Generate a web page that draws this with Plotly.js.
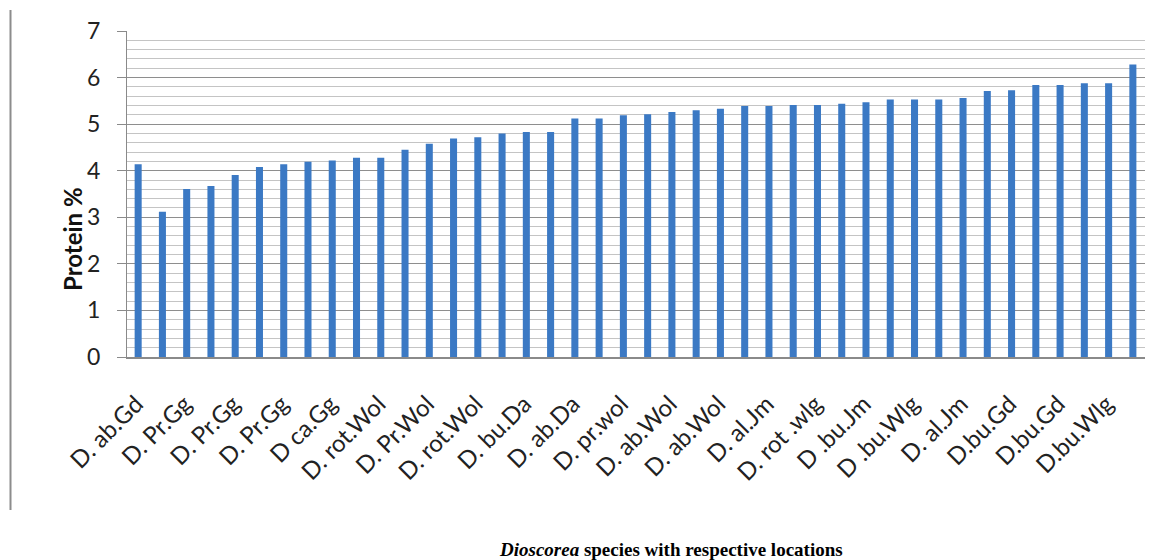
<!DOCTYPE html>
<html>
<head>
<meta charset="utf-8">
<script src="https://cdn.plot.ly/plotly-3.0.1.min.js"></script>
<style>
  html, body { margin: 0; padding: 0; background: #ffffff; }
  #chart { width: 1149px; height: 560px; }
</style>
</head>
<body>
<div id="chart"></div>
<script>
// Protein content (%) of Dioscorea samples, sorted ascending
const proteinPct = [
  4.14, 3.12, 3.61, 3.67, 3.91, 4.08, 4.14, 4.19, 4.22, 4.28,
  4.28, 4.45, 4.58, 4.69, 4.72, 4.80, 4.83, 4.83, 5.12, 5.12,
  5.19, 5.21, 5.26, 5.30, 5.33, 5.39, 5.39, 5.41, 5.41, 5.44,
  5.47, 5.53, 5.53, 5.53, 5.56, 5.71, 5.73, 5.84, 5.84, 5.88,
  5.88, 6.28
];

// Category labels shown on every other bar
const tickLabels = [
  "D. ab.Gd", "D. Pr.Gg", "D. Pr.Gg", "D. Pr.Gg", "D ca.Gg",
  "D. rot.Wol", "D. Pr.Wol", "D. rot.Wol", "D. bu.Da", "D. ab.Da",
  "D. pr.wol", "D. ab.Wol", "D. ab.Wol", "D. al.Jm", "D. rot .wlg",
  "D .bu.Jm", "D .bu.Wlg", "D. al.Jm", "D.bu.Gd", "D.bu.Gd", "D.bu.Wlg"
];

const yTicks = [0, 1, 2, 3, 4, 5, 6, 7];

const sampleIndex = proteinPct.map((_, i) => i);
const labelPositions = tickLabels.map((_, i) => i * 2);

// Plot-area frame in pixels
const W = 1149, H = 560;
const L = 127, R = 1145, T = 31, B = 357;
const pw = R - L, ph = B - T;
const px = x => (x - L) / pw;
const py = y => (B - y) / ph;

const trace = {
  type: 'bar',
  x: sampleIndex,
  y: proteinPct,
  marker: { color: '#3b79c4', line: { width: 0 } },
  hoverinfo: 'y'
};

const layout = {
  width: W, height: H,
  margin: { l: L, r: W - R, t: T, b: H - B, pad: 0 },
  paper_bgcolor: '#ffffff',
  plot_bgcolor: '#ffffff',
  showlegend: false,
  bargap: 0.71,
  xaxis: {
    range: [-0.46, 41.5],
    tickmode: 'array',
    tickvals: labelPositions,
    ticktext: tickLabels,
    tickangle: -45,
    ticks: '',
    ticklabelstandoff: 22,
    ticklabelshift: -2,
    tickfont: { family: 'Lato, "Open Sans", sans-serif', size: 24, color: '#222222' },
    showgrid: false,
    zeroline: false,
    showline: true,
    linecolor: '#8a8a8a',
    linewidth: 1.5,
    fixedrange: true
  },
  yaxis: {
    range: [0, 7],
    tickmode: 'array',
    tickvals: yTicks,
    ticks: 'outside',
    ticklen: 9,
    tickcolor: '#8a8a8a',
    tickwidth: 1,
    ticklabelstandoff: 12,
    tickfont: { family: 'Lato, "Open Sans", sans-serif', size: 23, color: '#222222' },
    showgrid: true,
    gridcolor: '#8e8e8e',
    gridwidth: 1,
    minor: { dtick: 0.2, showgrid: true, gridcolor: '#c4c4c4', gridwidth: 1 },
    zeroline: false,
    showline: true,
    linecolor: '#8a8a8a',
    linewidth: 1,
    fixedrange: true
  },
  annotations: [
    {
      text: '<b>Protein %</b>',
      xref: 'paper', yref: 'paper',
      x: px(72), y: py(239),
      xanchor: 'center', yanchor: 'middle',
      textangle: -90,
      showarrow: false,
      font: { family: 'Lato, "Open Sans", sans-serif', size: 24, color: '#111111' }
    },
    {
      text: '<b><i>Dioscorea</i> species with respective locations</b>',
      xref: 'paper', yref: 'paper',
      x: px(671), y: py(549),
      xanchor: 'center', yanchor: 'middle',
      showarrow: false,
      font: { family: '"Liberation Serif", "Times New Roman", serif', size: 19, color: '#000000' }
    }
  ],
  shapes: [
    {
      type: 'line', xref: 'paper', yref: 'paper',
      x0: px(10.5), x1: px(10.5), y0: py(10), y1: py(510),
      line: { color: '#8c8c8c', width: 2 }
    }
  ]
};

Plotly.newPlot('chart', [trace], layout, { displayModeBar: false, staticPlot: true });
</script>
</body>
</html>
